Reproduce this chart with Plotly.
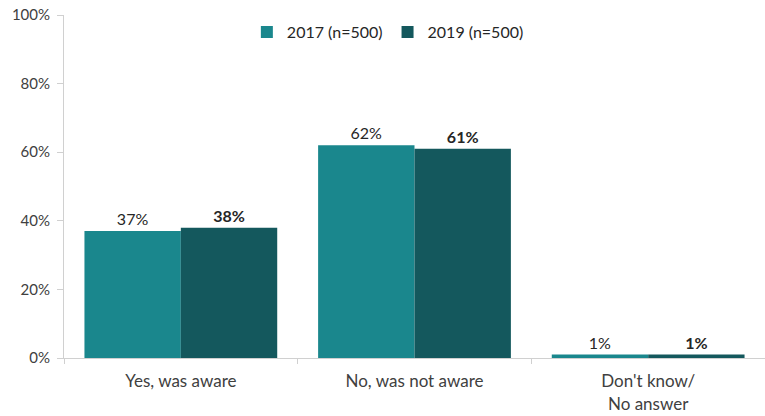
import plotly.graph_objects as go

categories = ["Yes, was aware", "No, was not aware", "Don't know/<br>No answer"]
series_names = ["2017 (n=500)", "2019 (n=500)"]
values_2017 = [37, 62, 1]
values_2019 = [38, 61, 1]
y_ticks = [0, 20, 40, 60, 80, 100]
y_tick_labels = ["0%", "20%", "40%", "60%", "80%", "100%"]

colors = ["#1a878d", "#14585d"]
font_family = "Lato, 'Open Sans', sans-serif"

fig = go.Figure()
fig.add_trace(go.Bar(
    x=categories, y=values_2017, name=series_names[0],
    marker=dict(color=colors[0], line=dict(width=0)),
    text=[f"{v}%" for v in values_2017], textposition="outside",
    textfont=dict(size=16, color="#262626", family=font_family),
    cliponaxis=False,
))
fig.add_trace(go.Bar(
    x=categories, y=values_2019, name=series_names[1],
    marker=dict(color=colors[1], line=dict(width=0)),
    text=[f"<b>{v}%</b>" for v in values_2019], textposition="outside",
    textfont=dict(size=16, color="#262626", family=font_family),
    cliponaxis=False,
))

fig.update_layout(
    width=765, height=416,
    margin=dict(l=64, r=0, t=15, b=58),
    plot_bgcolor="white", paper_bgcolor="white",
    barmode="group", bargap=0.175, bargroupgap=0,
    font=dict(family=font_family, size=15, color="#404040"),
    showlegend=True,
    legend=dict(orientation="h", x=0.462, xanchor="center", y=1.0, yanchor="top",
                font=dict(size=16, color="#262626"), itemwidth=30,
                bgcolor="rgba(0,0,0,0)"),
    xaxis=dict(
        automargin=False,
        showline=True, linecolor="#d0d0d0", linewidth=1,
        ticks="outside", tickson="boundaries", ticklen=5, tickcolor="#d0d0d0",
        ticklabelstandoff=8,
        tickfont=dict(size=17, color="#404040"),
    ),
    yaxis=dict(
        automargin=False,
        range=[0, 100], tickvals=y_ticks, ticktext=y_tick_labels,
        showgrid=False, zeroline=False,
        showline=True, linecolor="#d0d0d0", linewidth=1,
        ticks="outside", ticklen=6, tickcolor="#d0d0d0",
        ticklabelstandoff=4,
        tickfont=dict(size=15, color="#404040"),
    ),
)

fig.write_html(
    "out.html",
    config={"displayModeBar": False},
    post_script="document.body.style.margin='0';",
)
